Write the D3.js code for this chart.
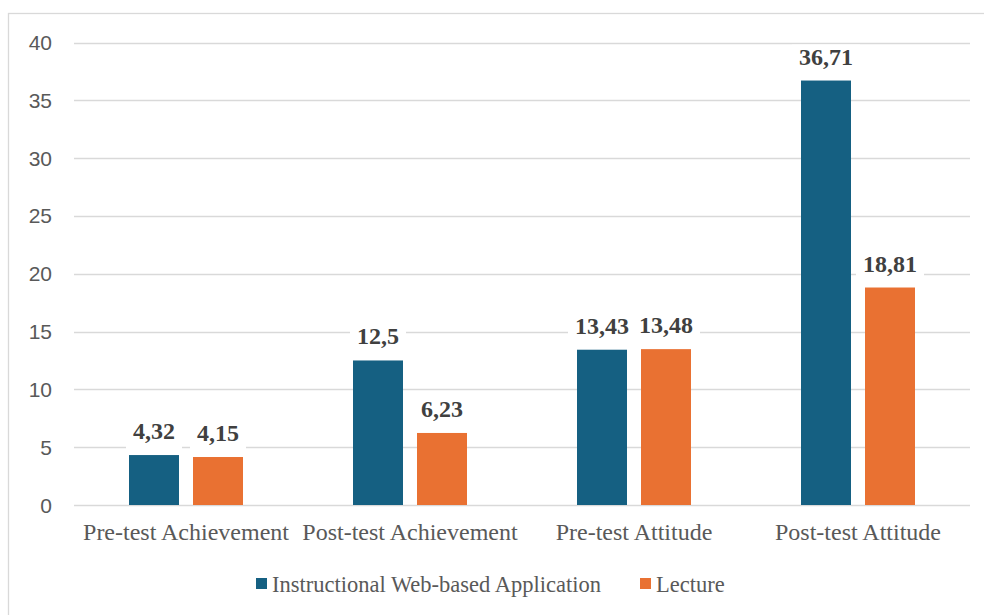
<!DOCTYPE html>
<html>
<head>
<meta charset="utf-8">
<script src="https://cdn.jsdelivr.net/npm/d3@7"></script>
<style>
  html, body { margin: 0; padding: 0; background: #fff; }
  svg { display: block; }
</style>
</head>
<body>
<svg id="chart" width="984" height="615"></svg>
<script>
// Category and series data
const categories = ["Pre-test Achievement", "Post-test Achievement", "Pre-test Attitude", "Post-test Attitude"];
const seriesNames = ["Instructional Web-based Application", "Lecture"];
const webValues = [4.32, 12.5, 13.43, 36.71];
const lectureValues = [4.15, 6.23, 13.48, 18.81];
const valueLabels = [["4,32", "12,5", "13,43", "36,71"], ["4,15", "6,23", "13,48", "18,81"]];
const yTicks = [0, 5, 10, 15, 20, 25, 30, 35, 40];
const colors = ["#156082", "#E97132"];

const svg = d3.select("#chart");
const serif = "Liberation Serif, Times New Roman, serif";

// Outer frame
svg.append("rect")
  .attr("x", 8.5).attr("y", 13.5)
  .attr("width", 1000).attr("height", 700)
  .attr("fill", "none").attr("stroke", "#d9d9d9").attr("stroke-width", 1.3);

const plot = { left: 74, right: 970, top: 42.5, bottom: 505 };

const x = d3.scaleBand().domain(categories).range([plot.left, plot.right]).padding(0);
const y = d3.scaleLinear().domain([0, 40]).range([plot.bottom, plot.top]);

// Gridlines
svg.append("g").selectAll("line").data(yTicks).join("line")
  .attr("x1", plot.left).attr("x2", plot.right)
  .attr("y1", d => Math.round(y(d)) + 0.5).attr("y2", d => Math.round(y(d)) + 0.5)
  .attr("stroke", "#d9d9d9").attr("stroke-width", 1.4);

// Y tick labels
svg.append("g").selectAll("text").data(yTicks).join("text")
  .attr("x", 52).attr("y", d => y(d))
  .attr("dy", "0.36em")
  .attr("text-anchor", "end")
  .attr("font-family", "Liberation Sans, Arial, sans-serif")
  .attr("font-size", 21)
  .attr("fill", "#595959")
  .text(d => d);

// X category labels
svg.append("g").selectAll("text").data(categories).join("text")
  .attr("x", d => x(d) + x.bandwidth() / 2)
  .attr("y", 540)
  .attr("text-anchor", "middle")
  .attr("font-family", serif)
  .attr("font-size", 24)
  .attr("fill", "#595959")
  .text(d => d);

// Bars
const barW = 50, gap = 14;
const series = [webValues, lectureValues];
const bars = [];
series.forEach((vals, si) => {
  vals.forEach((v, ci) => {
    const cx = x(categories[ci]) + x.bandwidth() / 2;
    const left = si === 0 ? cx - gap / 2 - barW : cx + gap / 2;
    bars.push({ si, ci, v, left, label: valueLabels[si][ci] });
  });
});

svg.append("g").selectAll("rect").data(bars).join("rect")
  .attr("x", d => d.left).attr("width", barW)
  .attr("y", d => y(d.v)).attr("height", d => y(0) - y(d.v))
  .attr("fill", d => colors[d.si]);

// Value labels with white backing boxes
const lg = svg.append("g");
bars.forEach(d => {
  const g = lg.append("g");
  const t = g.append("text")
    .attr("x", d.left + barW / 2)
    .attr("y", y(d.v) - 16)
    .attr("text-anchor", "middle")
    .attr("font-family", serif)
    .attr("font-size", 24)
    .attr("font-weight", "bold")
    .attr("fill", "#404040")
    .text(d.label);
  const bb = t.node().getBBox();
  g.insert("rect", "text")
    .attr("x", bb.x - 7).attr("y", bb.y + 1)
    .attr("width", bb.width + 14).attr("height", bb.height + 4)
    .attr("fill", "#fff");
});

// Legend
const legendItems = [
  { name: seriesNames[0], color: colors[0], sx: 256 },
  { name: seriesNames[1], color: colors[1], sx: 640 }
];
const leg = svg.append("g");
legendItems.forEach(it => {
  leg.append("rect").attr("x", it.sx).attr("y", 578).attr("width", 11).attr("height", 11).attr("fill", it.color);
  leg.append("text")
    .attr("x", it.sx + 16).attr("y", 592)
    .attr("font-family", serif)
    .attr("font-size", 22.5)
    .attr("fill", "#595959")
    .text(it.name);
});
</script>
</body>
</html>
